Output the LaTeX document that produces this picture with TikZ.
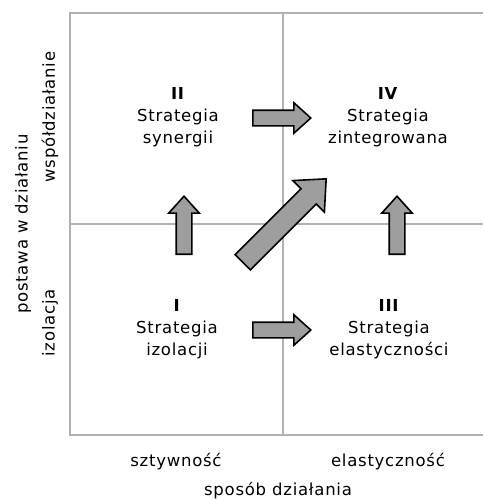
\documentclass[tikz,border=0pt]{standalone}
\usepackage{fontspec}
\setmainfont{DejaVu Sans}[LetterSpace=4.5]
\usetikzlibrary{positioning, shapes.arrows}
\tikzset{
  gridline/.style={ % lines of the matrix
    draw=black!30, line width=2.6pt,
  },
  quad/.style={ % text of a quadrant
    align=center, font=\fontsize{16.5}{22}\selectfont,
  },
  axislabel/.style={
    font=\fontsize{16.5}{20}\selectfont, inner sep=0pt,
  },
  blockarrow/.style={ % grey block arrow
    single arrow, draw=black, fill=black!38, line width=1.6pt,
    inner xsep=0pt, inner ysep=7pt, minimum height=58pt,
    single arrow head extend=7.5pt, single arrow tip angle=84,
    anchor=tip,
  },
}

\begin{document}
\begin{tikzpicture}[x=1pt,y=-1pt]
		\useasboundingbox (0,0) rectangle (483,499);
		% matrix
		\draw[gridline] (483,13) -- (70,13) -- (70,435) -- (483,435);
		\draw[gridline] (283,13) -- (283,435);
		\draw[gridline] (70,224) -- (483,224);
		% quadrants
		\node[quad] (q1) at (177,329) {\textbf{I}\\Strategia\\izolacji};
		\node[quad] (q2) at (178,117) {\textbf{II}\\Strategia\\synergii};
		\node[quad] (q3) at (389,329) {\textbf{III}\\Strategia\\elastyczności};
		\node[quad] (q4) at (388,117) {\textbf{IV}\\Strategia\\zintegrowana};
		% arrows (placed by their tips)
		\node[blockarrow, rotate=90] (a12) at (184,195) {};
		\node[blockarrow, rotate=90] (a34) at (397,195) {};
		\node[blockarrow] (a24) at (312,118) {};
		\node[blockarrow] (a13) at (312,330) {};
		\node[blockarrow, inner ysep=10pt, minimum height=118pt,
		  single arrow head extend=11.5pt, rotate=45] (a14) at (327,178) {};
		% axes
		\node[axislabel] (xl) at (176,462) {sztywność};
		\node[axislabel] (xr) at (388,462) {elastyczność};
		\node[axislabel] (xt) at (278,491) {sposób działania};
		\node[axislabel, rotate=90] (yt) at (23,224) {postawa w działaniu};
		\node[axislabel, rotate=90] (yu) at (50,117) {współdziałanie};
		\node[axislabel, rotate=90] (yd) at (50,323) {izolacja};
	\end{tikzpicture}
\end{document}
